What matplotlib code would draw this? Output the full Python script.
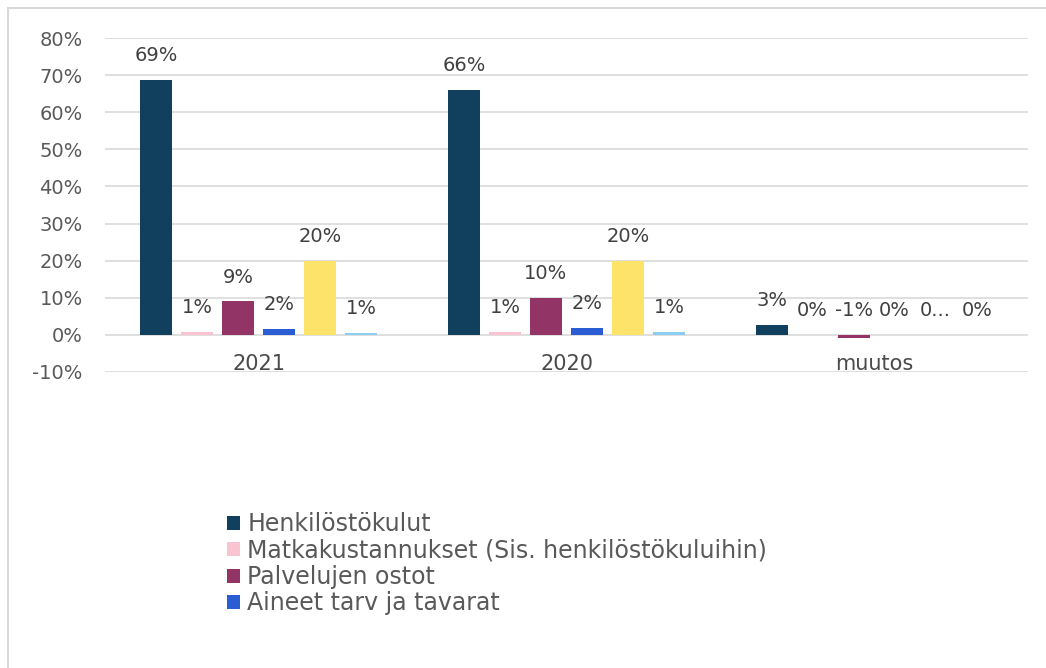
import matplotlib.pyplot as plt
from matplotlib.patches import Rectangle

plt.rcParams['font.family'] = ['DejaVu Sans']

# categories and series
categories = ['2021', '2020', 'muutos']
series = ['Henkilöstökulut',
          'Matkakustannukset (Sis. henkilöstökuluihin)',
          'Palvelujen ostot',
          'Aineet tarv ja tavarat',
          'Muut kulut',
          'Poistot']
colors = ['#113f5e', '#f9c3d2', '#933466', '#2a5dd4', '#fee36a', '#8ecdf2']

# values in percent, one list per series (2021, 2020, muutos)
henkilosto = [68.8, 66.0, 2.7]
matka = [0.8, 0.8, 0.0]
palvelut = [9.0, 10.0, -0.9]
aineet = [1.7, 1.9, -0.1]
muut = [20.0, 20.0, 0.0]
poistot = [0.6, 0.8, -0.1]
values = [henkilosto, matka, palvelut, aineet, muut, poistot]

# data labels as shown
labels = [['69%', '66%', '3%'],
          ['1%', '1%', '0%'],
          ['9%', '10%', '-1%'],
          ['2%', '2%', '0%'],
          ['20%', '20%', '0...'],
          ['1%', '1%', '0%']]

fig = plt.figure(figsize=(10.46, 6.68), dpi=100)
ax = fig.add_axes([105 / 1046, 1 - 372 / 668, 923 / 1046, 334 / 668])

width = 0.104
step = 0.1333
handles = []
for i, vals in enumerate(values):
    xs = [c + (i - 2.5) * step for c in range(len(categories))]
    b = ax.bar(xs, vals, width, color=colors[i], zorder=3)
    handles.append(b)
    for x, v, lab in zip(xs, vals, labels[i]):
        ax.annotate(lab, (x, max(v, 0)), xytext=(0, 17.5), textcoords='offset points',
                    ha='center', va='center', fontsize=14, color='#404040', zorder=4)

ax.set_xlim(-0.5, 2.5)
ax.set_ylim(-10, 80)
ax.set_yticks(range(-10, 81, 10))
ax.set_yticklabels([f'{t}%' for t in range(-10, 81, 10)], fontsize=14, color='#595959')
ax.tick_params(axis='y', length=0, pad=16)
ax.set_xticks([])
ax.grid(axis='y', color='#d9d9d9', linewidth=1.2, zorder=0)
for s in ax.spines.values():
    s.set_visible(False)

for c, name in enumerate(categories):
    ax.text(c, -7.9, name, ha='center', va='center', fontsize=15, color='#4a4a4a')

fig.legend(handles[:4], series[:4], loc='upper left', bbox_to_anchor=(206 / 1046, 1 - 491 / 668),
           frameon=False, fontsize=17, handlelength=0.55, handleheight=0.55,
           handletextpad=0.3, labelspacing=0.1, labelcolor='#595959')

fig.patches.append(Rectangle((8 / 1046, -0.05), 1.1, 1 - 8 / 668 + 0.05,
                             transform=fig.transFigure, fill=False,
                             edgecolor='#d9d9d9', linewidth=1.5))

fig.savefig('out.png', dpi=100)
